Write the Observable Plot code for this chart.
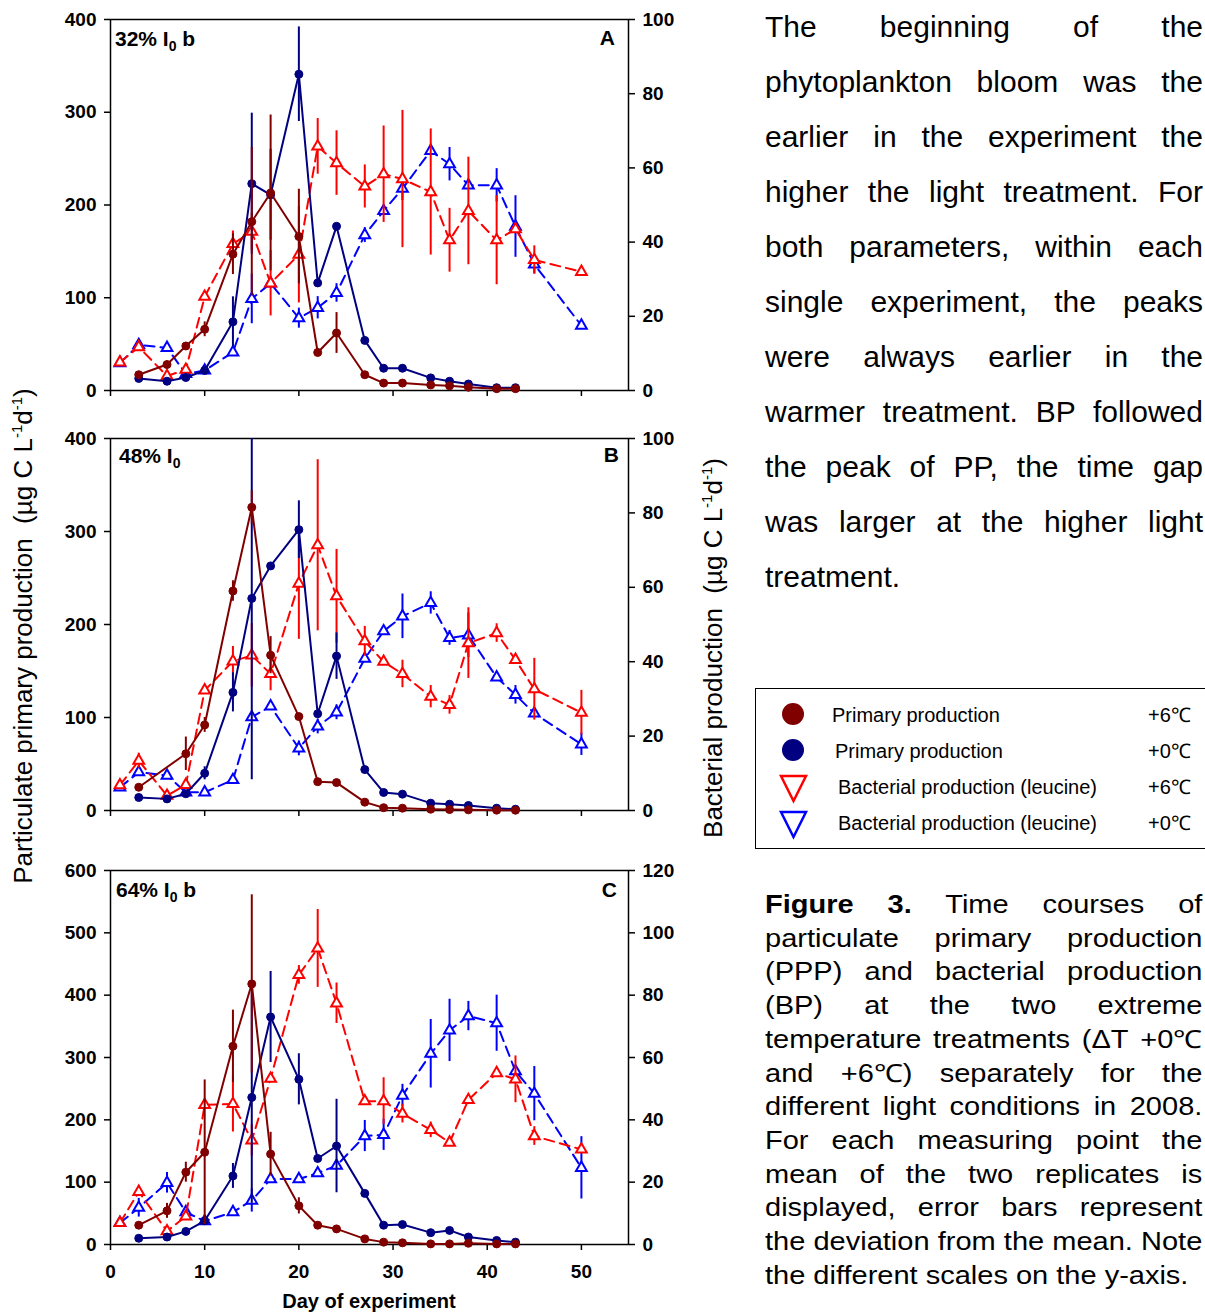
<!DOCTYPE html>
<html><head><meta charset="utf-8">
<script src="https://cdn.jsdelivr.net/npm/d3@7"></script>
<script src="https://cdn.jsdelivr.net/npm/@observablehq/plot@0.6"></script>
<style>
body{margin:0;width:1205px;height:1313px;overflow:hidden;position:relative;background:#fff;font-family:"Liberation Sans",Arial,sans-serif;color:#000;}
.abs{position:absolute;}
.plotlayer{position:absolute;left:0;}
.plab{position:absolute;font-weight:bold;font-size:21px;line-height:21px;white-space:nowrap;}
.plab sub{font-size:14px;vertical-align:-5px;line-height:0;}
.para{position:absolute;left:765px;width:438px;font-size:30px;line-height:55px;}
.para div{text-align:justify;text-align-last:justify;white-space:nowrap;}
.para div.last{text-align-last:left;}
.cap{position:absolute;left:765px;top:888px;width:377px;font-size:25px;line-height:33.7px;transform:scaleX(1.16);transform-origin:0 0;}
.cap div{text-align:justify;text-align-last:justify;white-space:nowrap;}
.cap div.last{text-align-last:left;}
.nb{display:inline-block;}
.ytitle{position:absolute;font-size:26px;white-space:nowrap;transform:translate(-50%,-50%) rotate(-90deg);}
.ytitle sup{font-size:15px;line-height:0;}
.legend{position:absolute;left:755px;top:688px;width:470px;height:159px;border:1.5px solid #000;}
.legend .lt{position:absolute;font-size:20px;line-height:20px;white-space:nowrap;}
</style></head><body>
<div id="root"></div>
<script>
// ---------- Data ----------
const xTicks = [0, 10, 20, 30, 40, 50];
const leftTicksAB = [0, 100, 200, 300, 400];
const leftTicksC = [0, 100, 200, 300, 400, 500, 600];
const rightTicksAB = [0, 20, 40, 60, 80, 100];
const rightTicksC = [0, 20, 40, 60, 80, 100, 120];

const ppDays = [3, 6, 8, 10, 13, 15, 17, 20, 22, 24, 27, 29, 31, 34, 36, 38, 41, 43];
const bpDays = [1, 3, 6, 8, 10, 13, 15, 17, 20, 22, 24, 27, 29, 31, 34, 36, 38, 41, 43, 45, 50];

// Panel A (32% I0 b)
const ppWarmA = [17, 28, 48, 66, 147, 182, 213, 166, 41, 62, 17, 8, 8, 6, 5, 3.5, 2, 2];
const ppWarmErrA = [0, 0, 0, 8, 22, 80, 84, 51, 4, 22, 0, 0, 0, 0, 0, 0, 0, 0];
const ppCtrlA = [13, 10, 14, 21.5, 74, 223, 211, 341, 116, 177, 54, 24, 24, 13.6, 10, 7, 3, 3];
const ppCtrlErrA = [0, 0, 0, 0, 27, 76, 49, 51, 0, 0, 0, 0, 0, 0, 0, 0, 0, 0];
const bpWarmA = [7.6, 11.7, 3.9, 5.6, 25.3, 39.5, 42.8, 28.9, 36.6, 65.8, 61.3, 55, 58.3, 57, 53.5, 40.5, 48.4, 40.5, 43.5, 35.2, 32];
const bpWarmErrA = [1, 1, 0, 0, 0, 3.5, 5, 8.8, 13, 7.5, 8.7, 5.8, 13, 18.5, 17, 8.6, 14.5, 12, 0, 3.8, 0];
const bpCtrlA = [7.4, 12.3, 11.5, 4.5, 5.4, 10.3, 24.7, 28.9, 19.5, 22.3, 26.3, 41.9, 48.4, 54.4, 64.6, 61, 55.3, 55.3, 44.2, 34, 17.5];
const bpCtrlErrA = [0, 1, 0, 0, 0, 0, 6.7, 0, 2.7, 3, 2.5, 2, 1, 3.2, 0, 4.5, 0, 4.5, 8.3, 2.6, 0];

// Panel B (48% I0)
const ppWarmB = [25, null, 61, 92, 236, 326, 167, 101, 31, 30, 9, 3, 2.5, 1.4, 1, 0.7, 0.4, 0.3];
const ppWarmErrB = [0, 0, 18, 8, 11, 18, 20, 0, 0, 0, 0, 0, 0, 0, 0, 0, 0, 0];
const ppCtrlB = [14, 12.5, 18, 40, 127, 228, 263, 302, 104, 166, 44, 19.4, 17.6, 7.9, 6.8, 5.4, 2.5, 1.4];
const ppCtrlErrB = [0, 0, 0, 7, 21, 195, 0, 31, 0, 25, 0, 0, 0, 0, 0, 0, 0, 0];
const bpWarmB = [6.8, 13.4, 4, 6.9, 32.3, 40.1, 41.7, 36.7, 61, 71.3, 57.6, 45.5, 40, 36.7, 30.6, 28.4, 45, 47.7, 40.5, 32.6, 26.3];
const bpWarmErrB = [0, 2, 0, 0, 0, 4, 8.5, 4.5, 15, 23, 12.6, 4, 0, 3.7, 3, 2.5, 9.5, 2.5, 0, 8.3, 6];
const bpCtrlB = [6.2, 10.3, 9.4, 4.9, 4.9, 8.2, 25.1, 28, 16.7, 22.6, 26.4, 40.8, 48.2, 52.2, 55.8, 46.4, 47.1, 35.8, 31.1, 26.1, 17.8];
const bpCtrlErrB = [0, 0, 0, 0, 0, 0, 0, 0, 2, 2, 2, 0, 0, 6, 3, 2, 6, 0, 2.5, 0, 3];

// Panel C (64% I0 b)
const ppWarmC = [31, 54, 116, 148, 318, 418, 145, 62, 31, 25, 9, 3.8, 2.7, 1, 1, 2, 1, 1];
const ppWarmErrC = [0, 12, 16, 116, 58, 143, 35, 13, 0, 0, 0, 0, 0, 0, 0, 0, 0, 0];
const ppCtrlC = [10, 12, 21, 38, 110, 236, 365, 265, 138, 158, 82, 31, 32, 19, 22.6, 12, 6.5, 3.8];
const ppCtrlErrC = [0, 0, 0, 0, 20, 170, 73, 41, 0, 75, 0, 0, 0, 0, 0, 0, 0, 0];
const bpWarmC = [6.9, 16.9, 4.3, 9, 44.8, 45.1, 33.4, 53.2, 86.5, 95, 77.4, 46, 46, 42, 36.8, 32.7, 46.4, 55, 53, 34.8, 30.5];
const bpWarmErrC = [0, 0, 0, 0, 0, 9, 5, 0, 3, 12.5, 6.5, 0, 7.5, 3, 2.5, 0, 0, 0, 7.5, 3, 0];
const bpCtrlC = [6.9, 11.8, 19.8, 10.4, 7.5, 10.4, 14.1, 21, 21, 22.9, 25.3, 34.8, 35.2, 47.8, 61.2, 68.7, 73.3, 71, 55.6, 48.4, 24.6];
const bpCtrlErrC = [0, 3, 3.3, 0, 0, 0, 3.7, 0, 0, 0, 0, 5, 5, 3.6, 11, 10, 4.7, 9, 0, 8.7, 10];

const COL = {ppWarm: "#800000", ppCtrl: "#000080", bpWarm: "#ff0000", bpCtrl: "#0000ff"};

// ---------- Build ----------
function series(days, vals, errs) {
  return days.map((d, i) => ({day: d, v: vals[i], e: errs[i]})).filter(r => r.v != null);
}

const W = 700, ML = 110, MR = 72;
const fontStyle = {fontFamily: "'Liberation Sans', Arial, sans-serif", fontSize: "19px", fontWeight: "bold", background: "transparent", overflow: "visible"};

function ppMarks(data, color) {
  return [
    Plot.ruleX(data.filter(d => d.e > 0), {x: "day", y1: d => d.v - d.e, y2: d => d.v + d.e, stroke: color, strokeWidth: 2, clip: true}),
    Plot.line(data, {x: "day", y: "v", stroke: color, strokeWidth: 2}),
    Plot.dot(data, {x: "day", y: "v", r: 4, fill: color, stroke: color, strokeWidth: 1})
  ];
}
function bpMarks(data, color) {
  return [
    Plot.ruleX(data.filter(d => d.e > 0), {x: "day", y1: d => d.v - d.e, y2: d => d.v + d.e, stroke: color, strokeWidth: 2, clip: true}),
    Plot.line(data, {x: "day", y: "v", stroke: color, strokeWidth: 2, strokeDasharray: "10,6"}),
    Plot.dot(data, {x: "day", y: "v", symbol: "triangle", r: 4, fill: "white", stroke: color, strokeWidth: 2})
  ];
}

const panels = [
  {top: 0, height: 400, mt: 19, mb: 10, lmax: 400, rmax: 100, lt: leftTicksAB, rt: rightTicksAB, showX: false,
   ppW: series(ppDays, ppWarmA, ppWarmErrA), ppC: series(ppDays, ppCtrlA, ppCtrlErrA),
   bpW: series(bpDays, bpWarmA, bpWarmErrA), bpC: series(bpDays, bpCtrlA, bpCtrlErrA)},
  {top: 419, height: 401, mt: 19, mb: 10, lmax: 400, rmax: 100, lt: leftTicksAB, rt: rightTicksAB, showX: false,
   ppW: series(ppDays, ppWarmB, ppWarmErrB), ppC: series(ppDays, ppCtrlB, ppCtrlErrB),
   bpW: series(bpDays, bpWarmB, bpWarmErrB), bpC: series(bpDays, bpCtrlB, bpCtrlErrB)},
  {top: 850, height: 464, mt: 20, mb: 70, lmax: 600, rmax: 120, lt: leftTicksC, rt: rightTicksC, showX: true,
   ppW: series(ppDays, ppWarmC, ppWarmErrC), ppC: series(ppDays, ppCtrlC, ppCtrlErrC),
   bpW: series(bpDays, bpWarmC, bpWarmErrC), bpC: series(bpDays, bpCtrlC, bpCtrlErrC)}
];

const root = document.getElementById("root");
for (const p of panels) {
  const common = {width: W, height: p.height, marginLeft: ML, marginRight: MR, marginTop: p.mt, marginBottom: p.mb, style: fontStyle};
  const bp = Plot.plot({
    ...common,
    x: {domain: [0, 55], axis: null},
    y: {domain: [0, p.rmax], axis: null},
    marks: [
      Plot.axisY({anchor: "right", ticks: p.rt, tickSize: 6, tickPadding: 8, label: null, strokeWidth: 1.5}),
      ...bpMarks(p.bpC, COL.bpCtrl),
      ...bpMarks(p.bpW, COL.bpWarm)
    ]
  });
  const pp = Plot.plot({
    ...common,
    x: {domain: [0, 55], axis: null},
    y: {domain: [0, p.lmax], axis: null},
    marks: [
      Plot.frame({stroke: "black", strokeWidth: 1.5}),
      Plot.axisY({anchor: "left", ticks: p.lt, tickSize: 6, tickPadding: 8, label: null, strokeWidth: 1.5}),
      Plot.axisX({anchor: "bottom", ticks: xTicks, tickSize: 6, tickPadding: 14, label: null, strokeWidth: 1.5,
                  tickFormat: p.showX ? (d => String(d)) : (() => "")}),
      ...ppMarks(p.ppC, COL.ppCtrl),
      ...ppMarks(p.ppW, COL.ppWarm)
    ]
  });
  for (const svg of [bp, pp]) {
    svg.classList.add("plotlayer");
    svg.style.top = p.top + "px";
    root.appendChild(svg);
  }
}
</script>

<!-- panel labels -->
<div class="plab" style="left:115px;top:28px;">32% I<sub>0</sub> b</div>
<div class="plab" style="left:560px;width:55px;text-align:right;top:27px;">A</div>
<div class="plab" style="left:119px;top:445px;">48% I<sub>0</sub></div>
<div class="plab" style="left:560px;width:59px;text-align:right;top:444px;">B</div>
<div class="plab" style="left:116px;top:879px;">64% I<sub>0</sub> b</div>
<div class="plab" style="left:560px;width:57px;text-align:right;top:879px;">C</div>

<!-- axis titles -->
<div class="ytitle" style="left:23px;top:636px;">Particulate primary production&nbsp; (µg C L<sup>-1</sup>d<sup>-1</sup>)</div>
<div class="ytitle" style="left:713px;top:648px;">Bacterial production&nbsp; (µg C L<sup>-1</sup>d<sup>-1</sup>)</div>
<div class="abs" style="left:269px;width:200px;text-align:center;top:1291px;font-weight:bold;font-size:20px;line-height:20px;">Day of experiment</div>

<!-- paragraph -->
<div class="para" style="top:-1px;">
<div>The beginning of the</div>
<div>phytoplankton bloom was the</div>
<div>earlier in the experiment the</div>
<div>higher the light treatment. For</div>
<div>both parameters, within each</div>
<div>single experiment, the peaks</div>
<div>were always earlier in the</div>
<div>warmer treatment. BP followed</div>
<div>the peak of PP, the time gap</div>
<div>was larger at the higher light</div>
<div class="last">treatment.</div>
</div>

<!-- legend -->
<div class="legend">
<svg width="470" height="159" style="position:absolute;left:0;top:0;">
  <circle cx="37" cy="25" r="11" fill="#800000"/>
  <circle cx="37" cy="61" r="11" fill="#000080"/>
  <path d="M25,87 L50,87 L37.5,112 Z" fill="none" stroke="#ff0000" stroke-width="2.5"/>
  <path d="M25,123 L50,123 L37.5,148 Z" fill="none" stroke="#0000ff" stroke-width="2.5"/>
</svg>
<div class="lt" style="left:76px;top:16px;">Primary production</div>
<div class="lt" style="left:79px;top:52px;">Primary production</div>
<div class="lt" style="left:82px;top:88px;">Bacterial production (leucine)</div>
<div class="lt" style="left:82px;top:124px;">Bacterial production (leucine)</div>
<div class="lt" style="left:392px;top:16px;">+6℃</div>
<div class="lt" style="left:392px;top:52px;">+0℃</div>
<div class="lt" style="left:392px;top:88px;">+6℃</div>
<div class="lt" style="left:392px;top:124px;">+0℃</div>
</div>

<!-- caption -->
<div class="cap">
<div><b>Figure 3.</b> Time courses of</div>
<div>particulate primary production</div>
<div>(PPP) and bacterial production</div>
<div>(BP) at the two extreme</div>
<div>temperature treatments <span class="nb">(ΔT</span> <span class="nb">+0℃</span></div>
<div>and <span class="nb">+6℃)</span> separately for the</div>
<div>different light conditions in 2008.</div>
<div>For each measuring point the</div>
<div>mean of the two replicates is</div>
<div>displayed, error bars represent</div>
<div>the deviation from the mean. Note</div>
<div class="last">the different scales on the y-axis.</div>
</div>
</body></html>
